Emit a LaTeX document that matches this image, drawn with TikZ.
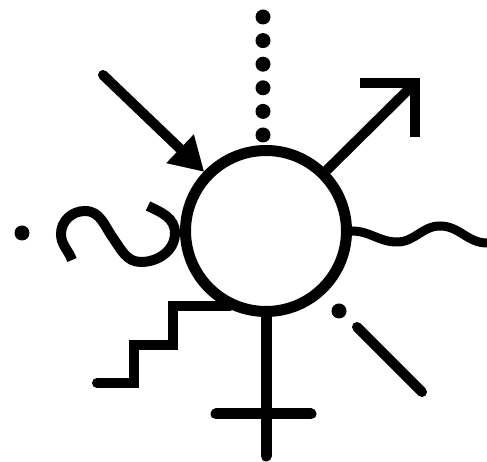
\documentclass[tikz,border=0pt]{standalone}
\usetikzlibrary{arrows.meta}
\tikzset{
  ring/.style={circle,draw,line width=11pt,minimum size=161pt,inner sep=0pt},
  stroke/.style={line width=#1},
  stroke/.default=10pt,
  dot/.style={circle,fill,inner sep=0pt,minimum size=15pt},
  % incoming arrow
  pointer/.style={stroke,line cap=round,-{Triangle[length=33pt,width=40pt,line width=0pt]}},
  % wavy lines
  wave/.style={stroke=#1},
  wave/.default=10pt,
}

\begin{document}
\begin{tikzpicture}[x=1pt,y=1pt]
  \useasboundingbox (0,0) rectangle (487,462);
  \node[ring] (c) at (266,231) {};
  % dots above
  \foreach \i in {0,...,5}
    \node[dot] (d\i) at (263,{327+23.6*\i}) {};
  \node[dot] (l) at (22,229) {};
  \node[dot] (r) at (339,151) {};
  \coordinate (a0) at (103,387);
  \coordinate (m1) at (415,379);
  \coordinate (s0) at (230,156);
  \coordinate (v0) at (266,6);
  \coordinate (v1) at (216,48);
  \coordinate (v2) at (311,48);
  \coordinate (k0) at (357,135);
  \coordinate (k1) at (422,70);
  % arrow in
  \draw[pointer] (a0) -- (c);
  % arrow out
  \draw[stroke] (c.45) -- (m1);
  \draw[stroke,miter limit=4] (360,379) -- (m1) -- (415,325);
  % wave right
  \draw[wave=9pt] (c.east) to[out=0,in=180] (397,220) to[out=0,in=180] (440,236)
    to[out=0,in=180] (487,219);
  % squiggle left
  \draw[wave] (72,202) to[out=110,in=270] (61,228) to[out=90,in=180] (85,251)
    to[out=0,in=125] (113,224) to[out=-55,in=180] (141,200) to[out=0,in=270] (175,229)
    to[out=90,in=-25] (148,256);
  % stairs
  \draw[stroke,line cap=round] (s0) -- (173,156) -- (173,117) -- (134,117) -- (134,79) -- (97,79);
  % venus cross
  \draw[stroke=11pt,line cap=round] (c.south) -- (v0);
  \draw[stroke=11pt,line cap=round] (v1) -- (v2);
  % dash right
  \draw[stroke,line cap=round] (k0) -- (k1);
\end{tikzpicture}
\end{document}
